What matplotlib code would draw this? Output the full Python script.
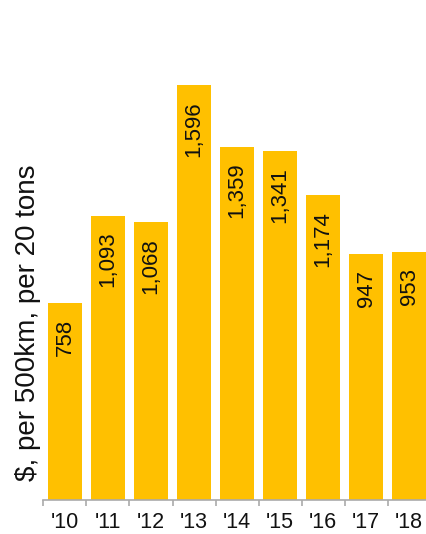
import numpy as np
import matplotlib.pyplot as plt

years = ["'10", "'11", "'12", "'13", "'14", "'15", "'16", "'17", "'18"]
cost = [758, 1093, 1068, 1596, 1359, 1341, 1174, 947, 953]

plt.rcParams['font.family'] = ['Liberation Sans', 'DejaVu Sans']

fig = plt.figure(figsize=(4.26, 5.34), dpi=100)
ax = fig.add_axes([0.1021, 0.0637, 0.9085, 0.869])

x = np.arange(len(years))
bars = ax.bar(x, cost, width=0.8, color='#FFC000', edgecolor='none')

for xi, v in zip(x, cost):
    ax.annotate('{:,}'.format(v), (xi, v), xytext=(0, -11.5), textcoords='offset points',
                rotation=90, ha='center', va='top', fontsize=16, color='#111111')

ax.set_xlim(-0.5, 8.5)
ax.set_ylim(0, 1785)

for s in ['top', 'right', 'left']:
    ax.spines[s].set_visible(False)
ax.spines['bottom'].set_color('#AAAAAA')
ax.spines['bottom'].set_linewidth(1.2)

ax.set_yticks([])
ax.set_xticks(x)
ax.set_xticklabels(years, fontsize=15.5, color='#111111')
ax.set_xticks(np.arange(-0.5, 9, 1), minor=True)
ax.tick_params(axis='x', which='major', length=0, pad=9)
ax.tick_params(axis='x', which='minor', length=4, width=1.2, color='#AAAAAA')

fig.text(28 / 426, 0.395, '$, per 500km, per 20 tons', rotation=90,
         ha='center', va='center', fontsize=20, color='#111111')

fig.savefig('out.png', dpi=100)
